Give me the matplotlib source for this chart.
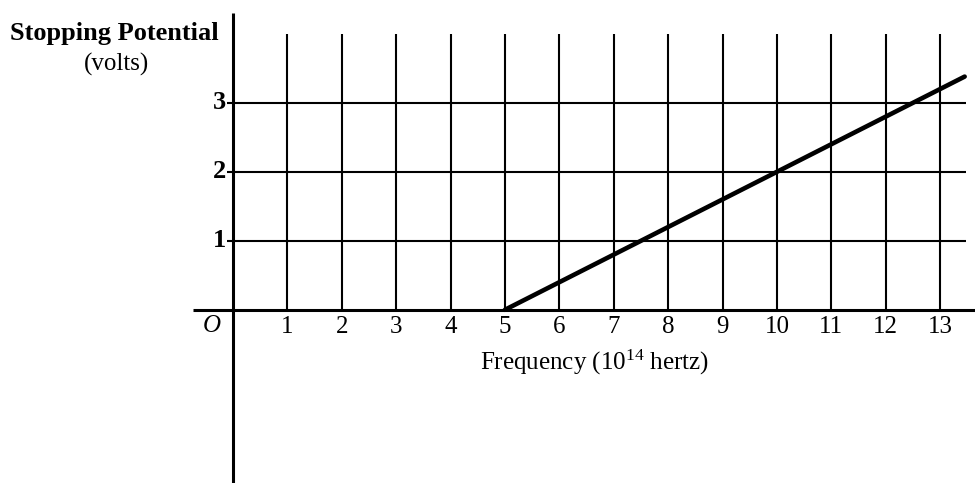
import matplotlib.pyplot as plt

plt.rcParams['font.family'] = ['Liberation Serif', 'DejaVu Serif']
plt.rcParams['mathtext.fontset'] = 'custom'
plt.rcParams['mathtext.rm'] = 'Liberation Serif'
plt.rcParams['mathtext.default'] = 'regular'

# data
freq_ticks = list(range(1, 14))
volt_ticks = [1, 2, 3]
freq = [5.0, 13.45]      # 10^14 Hz
stop_v = [0.0, 3.38]     # volts

fig = plt.figure(figsize=(9.75, 4.83), dpi=100)
ax = fig.add_axes([0, 0, 1, 1])
ax.set_xlim(-4.28, 13.64)
ax.set_ylim(-2.51, 4.49)
ax.axis('off')

# grid
for f in freq_ticks:
    ax.plot([f, f], [0, 4.0], color='black', lw=1.5, solid_capstyle='butt')
for v in volt_ticks:
    ax.plot([-0.1, 13.47], [v, v], color='black', lw=1.5, solid_capstyle='butt')
    ax.text(-0.12, v, str(v), ha='right', va='center', fontsize=19, fontweight='bold')

# axes
ax.plot([0, 0], [-2.6, 4.3], color='black', lw=2.2, solid_capstyle='butt')
ax.plot([-0.74, 13.7], [0, 0], color='black', lw=2.2, solid_capstyle='butt')

# stopping potential line
ax.plot(freq, stop_v, color='black', lw=3.3, solid_capstyle='round')

for f in freq_ticks:
    ax.text(f, -0.25, str(f), ha='center', va='center', fontsize=18)
ax.text(-0.39, -0.24, 'O', ha='center', va='center', fontsize=18, style='italic')

ax.text(6.65, -0.76, 'Frequency (10$^{14}$ hertz)', ha='center', va='center', fontsize=18)
ax.text(-2.18, 4.01, 'Stopping Potential', ha='center', va='center', fontsize=19, fontweight='bold')
ax.text(-2.13, 3.55, '(volts)', ha='center', va='center', fontsize=18)

fig.savefig('out.png', dpi=100)
